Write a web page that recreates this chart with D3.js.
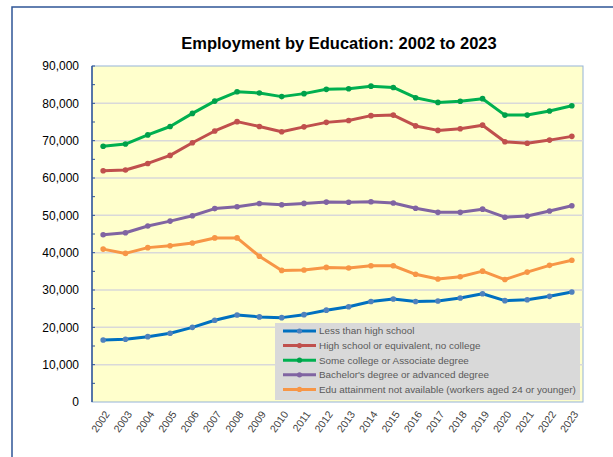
<!DOCTYPE html>
<html>
<head>
<meta charset="utf-8">
<script src="https://cdn.jsdelivr.net/npm/d3@7"></script>
<style>
  body { margin: 0; background: #fff; }
  svg { display: block; font-family: "Liberation Sans", Arial, sans-serif; }
</style>
</head>
<body>
<svg id="chart" width="613" height="457"></svg>
<script>
const years = ["2002", "2003", "2004", "2005", "2006", "2007", "2008", "2009", "2010", "2011", "2012",
  "2013", "2014", "2015", "2016", "2017", "2018", "2019", "2020", "2021", "2022", "2023"];

const lessThanHS = [16600, 16800, 17500, 18400, 20000, 21900, 23300, 22800, 22600, 23400, 24600,
  25500, 26900, 27600, 26900, 27050, 27850, 29000, 27150, 27400, 28300, 29450];
const highSchool = [61950, 62150, 63900, 66050, 69450, 72600, 75100, 73800, 72400, 73700, 74900,
  75400, 76700, 76850, 73950, 72750, 73200, 74150, 69700, 69300, 70150, 71150];
const someCollege = [68500, 69100, 71550, 73800, 77300, 80600, 83100, 82750, 81800, 82600, 83750,
  83900, 84600, 84250, 81500, 80250, 80550, 81250, 76850, 76850, 77950, 79350];
const bachelors = [44800, 45350, 47150, 48450, 49900, 51800, 52300, 53150, 52850, 53200, 53550,
  53500, 53650, 53300, 51900, 50800, 50800, 51650, 49500, 49800, 51150, 52550];
const notAvailable = [40950, 39800, 41350, 41850, 42600, 43950, 43950, 39050, 35250, 35350, 36050,
  35900, 36500, 36500, 34200, 32950, 33550, 35050, 32800, 34800, 36600, 37950];

const seriesNames = [
  "Less than high school",
  "High school or equivalent, no college",
  "Some college or Associate degree",
  "Bachelor's degree or advanced degree",
  "Edu attainment not available (workers aged 24 or younger)"
];
const yTicks = [0, 10000, 20000, 30000, 40000, 50000, 60000, 70000, 80000, 90000];

const series = [
  { name: seriesNames[0], values: lessThanHS, line: "#0070c0", dot: "#4f81bd" },
  { name: seriesNames[1], values: highSchool, line: "#c0504d", dot: "#c0504d" },
  { name: seriesNames[2], values: someCollege, line: "#00b050", dot: "#00a04a" },
  { name: seriesNames[3], values: bachelors, line: "#8064a2", dot: "#8064a2" },
  { name: seriesNames[4], values: notAvailable, line: "#f79646", dot: "#f79646" }
];

const svg = d3.select("#chart");
const plot = { left: 92, right: 583, top: 66, bottom: 402 };

// outer frame (runs off the right and bottom)
svg.append("path")
  .attr("d", "M12,457 L12,7 L613,7")
  .attr("fill", "none")
  .attr("stroke", "#2f5597")
  .attr("stroke-width", 1.5);

svg.append("text")
  .attr("x", 339)
  .attr("y", 49)
  .attr("text-anchor", "middle")
  .attr("font-size", "16.5px")
  .attr("font-weight", "bold")
  .attr("fill", "#000")
  .text("Employment by Education: 2002 to 2023");

const x = d3.scalePoint()
  .domain(years)
  .range([plot.left, plot.right])
  .padding(0.5);

const y = d3.scaleLinear()
  .domain([0, 90000])
  .range([plot.bottom, plot.top]);

// plot background
svg.append("rect")
  .attr("x", plot.left)
  .attr("y", plot.top)
  .attr("width", plot.right - plot.left)
  .attr("height", plot.bottom - plot.top)
  .attr("fill", "#ffffcc")
  .attr("stroke", "#95b3d7")
  .attr("stroke-width", 1);

// gridlines
svg.append("g")
  .selectAll("line")
  .data(yTicks.filter(d => d > 0 && d < 90000))
  .enter()
  .append("line")
  .attr("x1", plot.left)
  .attr("x2", plot.right)
  .attr("y1", d => y(d))
  .attr("y2", d => y(d))
  .attr("stroke", "#d9d9d9")
  .attr("stroke-width", 1.5);

// y axis labels
const yAxis = svg.append("g")
  .attr("transform", `translate(${plot.left - 10},0)`)
  .call(d3.axisLeft(y).tickValues(yTicks).tickFormat(d3.format(",")).tickSize(0));
yAxis.select(".domain").remove();
yAxis.selectAll("text")
  .attr("font-size", "12px")
  .attr("font-family", "Liberation Sans, Arial, sans-serif")
  .attr("fill", "#000");

// left axis line with small inner ticks every 5,000
svg.append("g")
  .selectAll("line")
  .data(d3.range(5000, 90001, 5000))
  .enter()
  .append("line")
  .attr("x1", plot.left)
  .attr("x2", plot.left + 3)
  .attr("y1", d => y(d))
  .attr("y2", d => y(d))
  .attr("stroke", "#2f5597")
  .attr("stroke-width", 1);
svg.append("line")
  .attr("x1", plot.left)
  .attr("x2", plot.left)
  .attr("y1", plot.top)
  .attr("y2", plot.bottom)
  .attr("stroke", "#2f5597")
  .attr("stroke-width", 1.5);

// x axis labels
svg.append("g")
  .selectAll("text")
  .data(years)
  .enter()
  .append("text")
  .attr("transform", d => `translate(${x(d) + 4},${plot.bottom + 10}) rotate(-55)`)
  .attr("text-anchor", "end")
  .attr("dy", "0.35em")
  .attr("font-size", "10.5px")
  .attr("fill", "#404040")
  .text(d => d);

// lines
const line = d3.line()
  .x((d, i) => x(years[i]))
  .y(d => y(d));

const groups = svg.append("g")
  .selectAll("g")
  .data(series)
  .enter()
  .append("g");

groups.append("path")
  .attr("d", d => line(d.values))
  .attr("fill", "none")
  .attr("stroke", d => d.line)
  .attr("stroke-width", 3)
  .attr("stroke-linejoin", "round");

groups.selectAll("circle")
  .data(d => d.values.map((v, i) => ({ v, i, c: d.dot })))
  .enter()
  .append("circle")
  .attr("cx", d => x(years[d.i]))
  .attr("cy", d => y(d.v))
  .attr("r", 2.8)
  .attr("fill", d => d.c);

// legend
const legend = svg.append("g");
legend.append("rect")
  .attr("x", 275)
  .attr("y", 323)
  .attr("width", 305)
  .attr("height", 77)
  .attr("fill", "#d9d9d9");

const entries = legend.selectAll("g")
  .data(series)
  .enter()
  .append("g")
  .attr("transform", (d, i) => `translate(283,${331 + i * 14.6})`);

entries.append("line")
  .attr("x1", 0)
  .attr("x2", 33)
  .attr("stroke", d => d.line)
  .attr("stroke-width", 3);
entries.append("circle")
  .attr("cx", 16.5)
  .attr("r", 2.6)
  .attr("fill", d => d.dot);
entries.append("text")
  .attr("x", 36)
  .attr("dy", "0.35em")
  .attr("font-size", "9.9px")
  .attr("fill", "#595959")
  .text(d => d.name);
</script>
</body>
</html>
